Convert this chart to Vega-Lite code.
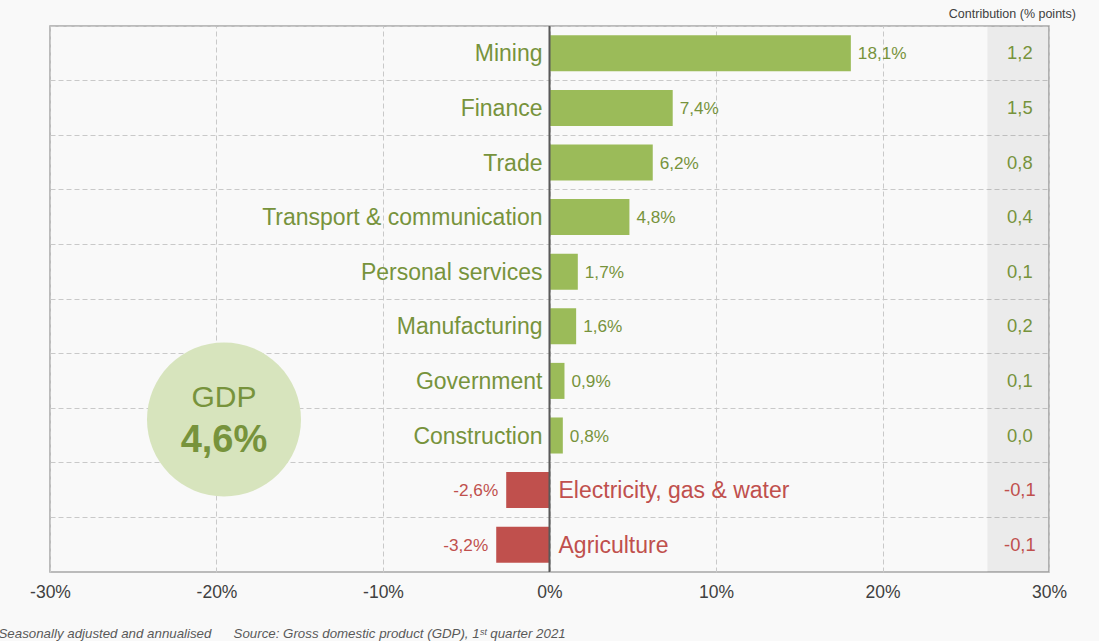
{
  "$schema": "https://vega.github.io/schema/vega-lite/v6.json",
  "width": 999,
  "height": 546,
  "autosize": {"type": "none"},
  "padding": {"left": 50, "top": 26, "right": 50, "bottom": 69},
  "background": "#f9f9f9",
  "config": {
    "locale": {"number": {"decimal": ",", "thousands": ".", "grouping": [3], "currency": ["", ""], "minus": "-", "percent": "%"}},
    "font": "Liberation Sans",
    "view": {"stroke": "#a6a6a6", "strokeWidth": 1.5}
  },
  "title": {
    "text": "Contribution (% points)",
    "anchor": "end",
    "frame": "group",
    "orient": "top",
    "dx": 27,
    "dy": 12,
    "offset": 7,
    "baseline": "alphabetic",
    "fontSize": 12.5,
    "fontWeight": "normal",
    "color": "#404040"
  },
  "datasets": {
    "sectors": [
      {"sector": "Mining", "value": 0.181, "contrib": 1.2},
      {"sector": "Finance", "value": 0.074, "contrib": 1.5},
      {"sector": "Trade", "value": 0.062, "contrib": 0.8},
      {"sector": "Transport & communication", "value": 0.048, "contrib": 0.4},
      {"sector": "Personal services", "value": 0.017, "contrib": 0.1},
      {"sector": "Manufacturing", "value": 0.016, "contrib": 0.2},
      {"sector": "Government", "value": 0.009, "contrib": 0.1},
      {"sector": "Construction", "value": 0.008, "contrib": 0.0},
      {"sector": "Electricity, gas & water", "value": -0.026, "contrib": -0.1},
      {"sector": "Agriculture", "value": -0.032, "contrib": -0.1}
    ],
    "gdp": [{"label": "GDP", "value": 0.046}]
  },
  "layer": [
    {
      "data": {"values": [{}]},
      "mark": {"type": "rect", "fill": "#000000", "opacity": 0.055},
      "encoding": {
        "x": {"datum": 0.263, "type": "quantitative", "scale": {"domain": [-0.3, 0.3], "nice": false}},
        "x2": {"datum": 0.3}
      }
    },
    {
      "data": {"name": "sectors"},
      "mark": {"type": "bar", "height": {"band": 0.66}},
      "encoding": {
        "x": {
          "field": "value", "type": "quantitative",
          "scale": {"domain": [-0.3, 0.3], "nice": false},
          "axis": {
            "values": [-0.3, -0.2, -0.1, 0, 0.1, 0.2, 0.3],
            "format": ".0%",
            "grid": true, "gridDash": [5, 3], "gridColor": "#c9c9c9", "gridWidth": 1,
            "ticks": false, "domain": false,
            "labelFontSize": 17.5, "labelColor": "#404040", "labelPadding": 11, "labelFlush": false,
            "title": "Seasonally adjusted and annualised\u00a0\u00a0\u00a0\u00a0\u00a0\u00a0Source: Gross domestic product (GDP), 1ˢᵗ quarter 2021",
            "titleFontStyle": "italic", "titleFontWeight": "normal", "titleFontSize": 13.3, "titleColor": "#595959",
            "titleX": -52, "titleY": 65, "titleAlign": "left", "titleBaseline": "alphabetic", "titleAnchor": null
          }
        },
        "y": {
          "field": "sector", "type": "nominal", "sort": null,
          "scale": {"domain": ["Mining", "Finance", "Trade", "Transport & communication", "Personal services", "Manufacturing", "Government", "Construction", "Electricity, gas & water", "Agriculture"], "paddingInner": 0, "paddingOuter": 0},
          "axis": {"labels": false, "ticks": false, "domain": false, "title": null, "grid": true, "bandPosition": 0, "gridDash": [5, 3], "gridColor": "#c9c9c9", "gridWidth": 1}
        },
        "color": {"condition": {"test": "datum.value < 0", "value": "#c0504d"}, "value": "#9bbb59"}
      }
    },
    {
      "data": {"name": "sectors"},
      "transform": [{"filter": "datum.value >= 0"}],
      "mark": {"type": "text", "align": "right", "dx": -7, "dy": 1, "fontSize": 23, "color": "#77933c"},
      "encoding": {
        "x": {"datum": 0, "type": "quantitative"},
        "y": {"field": "sector", "type": "nominal", "sort": null},
        "text": {"field": "sector"}
      }
    },
    {
      "data": {"name": "sectors"},
      "transform": [{"filter": "datum.value < 0"}],
      "mark": {"type": "text", "align": "left", "dx": 9, "dy": 1, "fontSize": 23, "color": "#c0504d"},
      "encoding": {
        "x": {"datum": 0, "type": "quantitative"},
        "y": {"field": "sector", "type": "nominal", "sort": null},
        "text": {"field": "sector"}
      }
    },
    {
      "data": {"name": "sectors"},
      "transform": [{"filter": "datum.value >= 0"}],
      "mark": {"type": "text", "align": "left", "dx": 7, "dy": 1, "fontSize": 17.2, "color": "#77933c"},
      "encoding": {
        "x": {"field": "value", "type": "quantitative"},
        "y": {"field": "sector", "type": "nominal", "sort": null},
        "text": {"field": "value", "format": ".1%"}
      }
    },
    {
      "data": {"name": "sectors"},
      "transform": [{"filter": "datum.value < 0"}],
      "mark": {"type": "text", "align": "right", "dx": -8, "dy": 1, "fontSize": 17.2, "color": "#c0504d"},
      "encoding": {
        "x": {"field": "value", "type": "quantitative"},
        "y": {"field": "sector", "type": "nominal", "sort": null},
        "text": {"field": "value", "format": ".1%"}
      }
    },
    {
      "data": {"name": "sectors"},
      "mark": {"type": "text", "align": "center", "fontSize": 18.4},
      "encoding": {
        "x": {"datum": 0.2825, "type": "quantitative"},
        "y": {"field": "sector", "type": "nominal", "sort": null},
        "text": {"field": "contrib", "format": ".1f"},
        "color": {"condition": {"test": "datum.contrib < 0", "value": "#c0504d"}, "value": "#77933c"}
      }
    },
    {
      "data": {"values": [{}]},
      "mark": {"type": "rule", "color": "#595959", "strokeWidth": 2},
      "encoding": {"x": {"datum": 0, "type": "quantitative"}}
    },
    {
      "data": {"name": "gdp"},
      "mark": {"type": "point", "shape": "circle", "filled": true, "size": 23716, "color": "#d7e4bd", "opacity": 1, "yOffset": -16},
      "encoding": {
        "x": {"datum": -0.1955, "type": "quantitative"},
        "y": {"datum": "Construction", "type": "nominal"}
      }
    },
    {
      "data": {"name": "gdp"},
      "mark": {"type": "text", "align": "center", "baseline": "alphabetic", "dy": -28.5, "fontSize": 30, "color": "#77933c"},
      "encoding": {
        "x": {"datum": -0.1955, "type": "quantitative"},
        "y": {"datum": "Construction", "type": "nominal"},
        "text": {"field": "label"}
      }
    },
    {
      "data": {"name": "gdp"},
      "mark": {"type": "text", "align": "center", "baseline": "alphabetic", "dy": 16.5, "fontSize": 38, "fontWeight": "bold", "color": "#77933c"},
      "encoding": {
        "x": {"datum": -0.1955, "type": "quantitative"},
        "y": {"datum": "Construction", "type": "nominal"},
        "text": {"field": "value", "format": ".1%"}
      }
    }
  ]
}
